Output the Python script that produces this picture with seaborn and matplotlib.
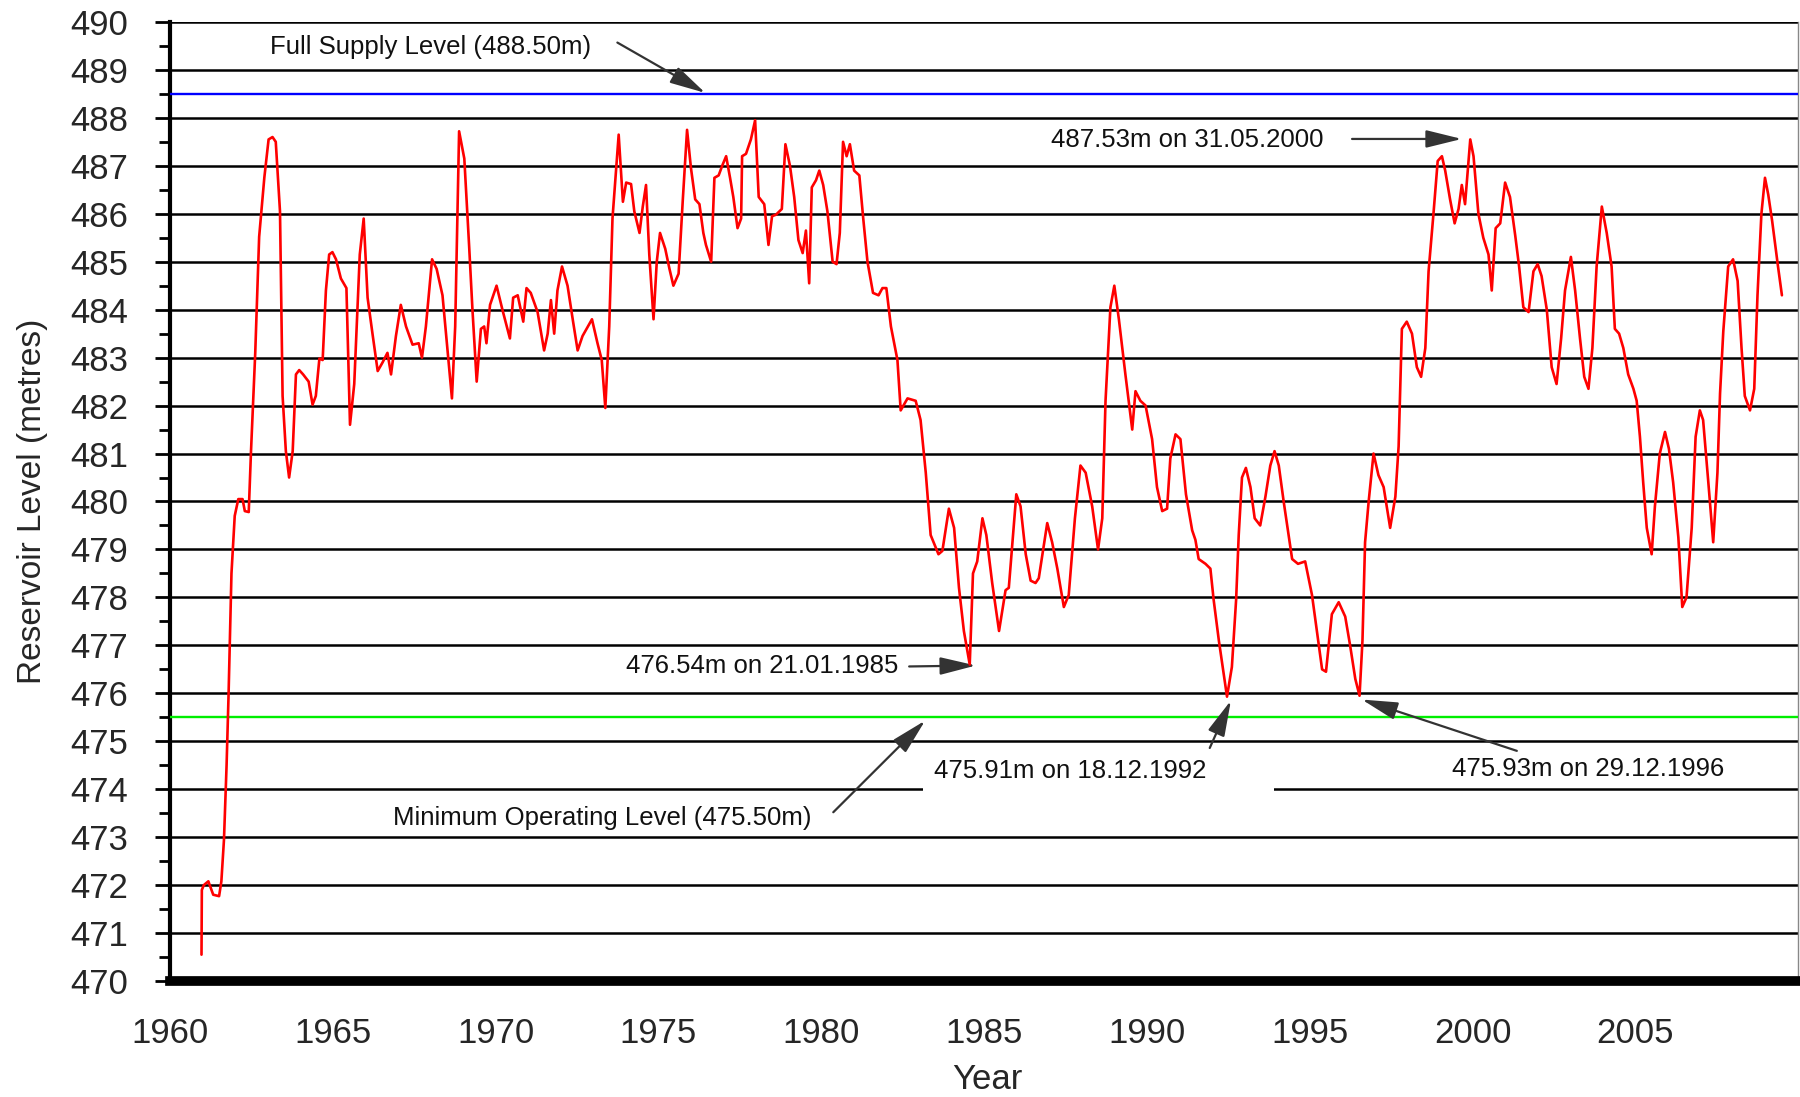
import numpy as np
import pandas as pd
import matplotlib
matplotlib.use("Agg")
import matplotlib.pyplot as plt
import seaborn as sns
from matplotlib.patches import Rectangle
from matplotlib.ticker import MultipleLocator

# reservoir level (decimal year, metres)
year = [
    1960.97, 1960.98, 1961.04, 1961.18, 1961.33, 1961.51, 1961.58, 1961.66, 1961.74, 1961.80,
    1961.84, 1961.89, 1961.99, 1962.10, 1962.23, 1962.30, 1962.42, 1962.49, 1962.62, 1962.74,
    1962.90, 1963.03, 1963.15, 1963.25, 1963.38, 1963.46, 1963.56, 1963.66, 1963.77, 1963.87,
    1963.97, 1964.09, 1964.26, 1964.38, 1964.48, 1964.59, 1964.69, 1964.79, 1964.89, 1964.99,
    1965.10, 1965.25, 1965.42, 1965.53, 1965.66, 1965.83, 1965.95, 1966.07, 1966.22, 1966.38,
    1966.53, 1966.68, 1966.79, 1966.94, 1967.09, 1967.25, 1967.45, 1967.64, 1967.74, 1967.86,
    1968.05, 1968.19, 1968.37, 1968.53, 1968.66, 1968.76, 1968.88, 1969.04, 1969.19, 1969.29,
    1969.42, 1969.55, 1969.65, 1969.72, 1969.83, 1970.03, 1970.21, 1970.44, 1970.54, 1970.68,
    1970.85, 1970.95, 1971.08, 1971.29, 1971.49, 1971.60, 1971.70, 1971.80, 1971.90, 1972.04,
    1972.21, 1972.38, 1972.52, 1972.67, 1972.96, 1973.13, 1973.26, 1973.37, 1973.49, 1973.59,
    1973.78, 1973.91, 1974.01, 1974.16, 1974.26, 1974.42, 1974.52, 1974.62, 1974.72, 1974.85,
    1974.95, 1975.05, 1975.21, 1975.34, 1975.46, 1975.62, 1975.75, 1975.88, 1976.00, 1976.13,
    1976.26, 1976.38, 1976.46, 1976.62, 1976.72, 1976.85, 1976.97, 1977.08, 1977.20, 1977.30,
    1977.43, 1977.54, 1977.57, 1977.69, 1977.84, 1977.97, 1978.08, 1978.25, 1978.38, 1978.49,
    1978.61, 1978.79, 1978.90, 1979.04, 1979.17, 1979.30, 1979.43, 1979.53, 1979.63, 1979.71,
    1979.84, 1979.94, 1980.06, 1980.19, 1980.35, 1980.47, 1980.57, 1980.67, 1980.78, 1980.88,
    1981.01, 1981.17, 1981.29, 1981.42, 1981.59, 1981.76, 1981.88, 1982.00, 1982.14, 1982.34,
    1982.44, 1982.65, 1982.90, 1983.05, 1983.21, 1983.36, 1983.60, 1983.72, 1983.92, 1984.08,
    1984.23, 1984.38, 1984.56, 1984.66, 1984.79, 1984.95, 1985.07, 1985.25, 1985.46, 1985.66,
    1985.76, 1985.99, 1986.12, 1986.28, 1986.43, 1986.58, 1986.68, 1986.94, 1987.09, 1987.25,
    1987.45, 1987.60, 1987.79, 1987.96, 1988.12, 1988.32, 1988.50, 1988.63, 1988.73, 1988.88,
    1989.00, 1989.14, 1989.34, 1989.55, 1989.65, 1989.80, 1989.96, 1990.16, 1990.31, 1990.47,
    1990.62, 1990.72, 1990.88, 1991.03, 1991.20, 1991.39, 1991.49, 1991.59, 1991.80, 1991.95,
    1992.05, 1992.21, 1992.36, 1992.46, 1992.61, 1992.74, 1992.82, 1992.92, 1993.04, 1993.18,
    1993.31, 1993.48, 1993.64, 1993.79, 1993.92, 1994.05, 1994.20, 1994.35, 1994.46, 1994.64,
    1994.86, 1995.07, 1995.22, 1995.38, 1995.50, 1995.68, 1995.89, 1996.09, 1996.24, 1996.40,
    1996.53, 1996.62, 1996.70, 1996.81, 1996.96, 1997.11, 1997.27, 1997.47, 1997.63, 1997.73,
    1997.83, 1997.98, 1998.14, 1998.29, 1998.42, 1998.55, 1998.65, 1998.80, 1998.93, 1999.06,
    1999.16, 1999.31, 1999.45, 1999.57, 1999.67, 1999.77, 1999.93, 2000.03, 2000.18, 2000.33,
    2000.49, 2000.59, 2000.71, 2000.85, 2001.00, 2001.15, 2001.31, 2001.43, 2001.56, 2001.72,
    2001.87, 2002.00, 2002.12, 2002.28, 2002.43, 2002.58, 2002.72, 2002.84, 2003.02, 2003.15,
    2003.30, 2003.43, 2003.56, 2003.68, 2003.81, 2003.97, 2004.12, 2004.27, 2004.37, 2004.50,
    2004.63, 2004.78, 2004.94, 2005.04, 2005.14, 2005.24, 2005.35, 2005.50, 2005.60, 2005.75,
    2005.91, 2006.03, 2006.16, 2006.32, 2006.44, 2006.57, 2006.73, 2006.85, 2006.98, 2007.08,
    2007.24, 2007.39, 2007.52, 2007.60, 2007.70, 2007.85, 2008.00, 2008.14, 2008.26, 2008.36,
    2008.52, 2008.65, 2008.75, 2008.87, 2008.98, 2009.08, 2009.20, 2009.38, 2009.50,
]
level = [
    470.55, 471.90, 472.00, 472.08, 471.80, 471.77, 472.08, 472.95, 474.50, 475.95,
    477.10, 478.50, 479.70, 480.05, 480.05, 479.80, 479.78, 481.05, 483.10, 485.52,
    486.76, 487.55, 487.60, 487.50, 486.05, 482.20, 481.05, 480.50, 481.05, 482.65,
    482.74, 482.65, 482.50, 482.02, 482.20, 482.98, 482.95, 484.40, 485.15, 485.20,
    485.05, 484.65, 484.45, 481.60, 482.45, 485.15, 485.90, 484.25, 483.50, 482.72,
    482.90, 483.10, 482.65, 483.45, 484.10, 483.65, 483.27, 483.30, 483.00, 483.65,
    485.05, 484.85, 484.30, 483.10, 482.15, 483.65, 487.72, 487.15, 485.30, 484.00,
    482.50, 483.60, 483.65, 483.30, 484.10, 484.50, 484.00, 483.40, 484.25, 484.30,
    483.75, 484.45, 484.35, 483.95, 483.15, 483.50, 484.20, 483.50, 484.40, 484.90,
    484.50, 483.75, 483.15, 483.45, 483.80, 483.30, 482.95, 481.95, 483.65, 485.90,
    487.65, 486.25, 486.65, 486.62, 486.05, 485.60, 486.15, 486.60, 485.15, 483.80,
    485.00, 485.60, 485.27, 484.85, 484.50, 484.75, 486.30, 487.75, 486.95, 486.30,
    486.20, 485.60, 485.35, 485.00, 486.75, 486.80, 487.02, 487.20, 486.75, 486.35,
    485.70, 485.90, 487.20, 487.25, 487.55, 487.95, 486.35, 486.20, 485.35, 485.95,
    485.98, 486.10, 487.45, 487.00, 486.35, 485.45, 485.18, 485.65, 484.55, 486.55,
    486.70, 486.90, 486.60, 486.05, 485.00, 484.95, 485.60, 487.50, 487.20, 487.45,
    486.90, 486.80, 485.90, 485.00, 484.35, 484.30, 484.45, 484.45, 483.65, 482.95,
    481.90, 482.15, 482.10, 481.70, 480.60, 479.30, 478.90, 478.97, 479.85, 479.45,
    478.20, 477.30, 476.60, 478.50, 478.75, 479.65, 479.30, 478.30, 477.30, 478.15,
    478.20, 480.15, 479.90, 478.90, 478.35, 478.30, 478.40, 479.55, 479.15, 478.60,
    477.80, 478.05, 479.65, 480.75, 480.60, 479.90, 479.00, 479.65, 482.10, 484.05,
    484.50, 483.80, 482.65, 481.50, 482.30, 482.10, 482.00, 481.30, 480.30, 479.80,
    479.85, 480.90, 481.40, 481.30, 480.15, 479.40, 479.20, 478.80, 478.70, 478.60,
    477.95, 477.10, 476.40, 475.93, 476.55, 477.95, 479.30, 480.50, 480.70, 480.30,
    479.65, 479.50, 480.10, 480.75, 481.05, 480.75, 480.00, 479.30, 478.80, 478.70,
    478.75, 478.05, 477.30, 476.50, 476.45, 477.65, 477.90, 477.60, 477.00, 476.30,
    475.95, 477.10, 479.15, 480.00, 481.00, 480.55, 480.30, 479.45, 480.10, 481.15,
    483.60, 483.75, 483.50, 482.80, 482.60, 483.20, 484.80, 486.00, 487.10, 487.20,
    486.90, 486.30, 485.80, 486.10, 486.60, 486.20, 487.55, 487.20, 486.00, 485.50,
    485.15, 484.40, 485.70, 485.80, 486.65, 486.35, 485.55, 484.90, 484.05, 483.95,
    484.80, 484.95, 484.70, 484.00, 482.80, 482.45, 483.40, 484.40, 485.10, 484.40,
    483.40, 482.60, 482.35, 483.20, 484.90, 486.15, 485.60, 484.90, 483.60, 483.50,
    483.20, 482.65, 482.35, 482.10, 481.35, 480.40, 479.45, 478.90, 479.90, 481.00,
    481.45, 481.10, 480.40, 479.25, 477.80, 478.00, 479.45, 481.35, 481.90, 481.70,
    480.40, 479.15, 480.60, 482.25, 483.55, 484.90, 485.05, 484.60, 483.20, 482.20,
    481.90, 482.35, 484.30, 486.00, 486.75, 486.40, 485.85, 484.90, 484.30,
]

full_supply = 488.50
min_operating = 475.50
year_ticks = [1960, 1965, 1970, 1975, 1980, 1985, 1990, 1995, 2000, 2005]

df = pd.DataFrame({"Year": year, "Level": level})

sns.set_style("white")
plt.rcParams["font.family"] = ["Liberation Sans", "DejaVu Sans"]

fig = plt.figure(figsize=(18, 10.97), dpi=100)
ax = fig.add_axes([0.0944, 0.1057, 0.9046, 0.8743])

ax.axhline(full_supply, color="#0000ff", lw=1.7, zorder=3)
ax.axhline(min_operating, color="#00ee00", lw=1.7, zorder=3)
sns.lineplot(data=df, x="Year", y="Level", color="#ff0000", lw=1.9,
             estimator=None, sort=False, ax=ax, zorder=4)

ax.set_xlim(1960, 2010)
ax.set_ylim(470, 490)
ax.set_xticks(year_ticks)
ax.yaxis.set_major_locator(MultipleLocator(1))
ax.yaxis.set_minor_locator(MultipleLocator(0.5))
ax.set_axisbelow(True)
ax.yaxis.grid(True, which="major", color="black", lw=1.8)
ax.xaxis.grid(False)

ax.spines["top"].set_visible(False)
ax.spines["right"].set_color("#888888")
ax.spines["right"].set_linewidth(1.0)
ax.spines["left"].set_color("black")
ax.spines["left"].set_linewidth(3)
ax.spines["bottom"].set_color("black")
ax.spines["bottom"].set_linewidth(7)

ax.tick_params(axis="y", which="major", direction="out", length=11, width=2,
               pad=19, labelsize=25, left=True, color="black")
ax.tick_params(axis="y", which="minor", direction="out", length=8, width=2,
               left=True, color="black")
ax.tick_params(axis="x", length=0, pad=26, labelsize=25)

ax.set_xlabel("Year", fontsize=25)
ax.set_ylabel("Reservoir Level (metres)", fontsize=24)
ax.xaxis.set_label_coords(0.502, -0.085)
ax.yaxis.set_label_coords(-0.075, 0.5)

# white gap in the 474 line behind the 1992 label
ax.add_patch(Rectangle((1983.13, 473.85), 10.77, 0.3, facecolor="white",
                       edgecolor="none", zorder=1))

arrow = dict(arrowstyle="-|>,head_length=1.3,head_width=0.32", color="#333333",
             lw=1.6, mutation_scale=17, shrinkA=0, shrinkB=0)
txt = dict(fontsize=18.5, color="#111111", va="center", ha="left", zorder=5)

ax.text(1963.07, 489.48, "Full Supply Level (488.50m)", **txt)
ax.annotate("", xy=(1976.44, 488.52), xytext=(1973.74, 489.57), arrowprops=arrow)

ax.text(1987.05, 487.54, "487.53m on 31.05.2000", **txt)
ax.annotate("", xy=(1999.67, 487.56), xytext=(1996.3, 487.56), arrowprops=arrow)

ax.text(1974.0, 476.58, "476.54m on 21.01.1985", **txt)
ax.annotate("", xy=(1984.75, 476.58), xytext=(1982.7, 476.56), arrowprops=arrow)

ax.text(1983.47, 474.39, "475.91m on 18.12.1992", **txt)
ax.annotate("", xy=(1992.58, 475.85), xytext=(1991.93, 474.86), arrowprops=arrow)

ax.text(1999.36, 474.42, "475.93m on 29.12.1996", **txt)
ax.annotate("", xy=(1996.6, 475.87), xytext=(2001.36, 474.8), arrowprops=arrow)

ax.text(1979.69, 473.4, "Minimum Operating Level (475.50m)", **dict(txt, ha="right"))
ax.annotate("", xy=(1983.19, 475.43), xytext=(1980.37, 473.52), arrowprops=arrow)

fig.savefig("out.png", dpi=100, facecolor="white")
